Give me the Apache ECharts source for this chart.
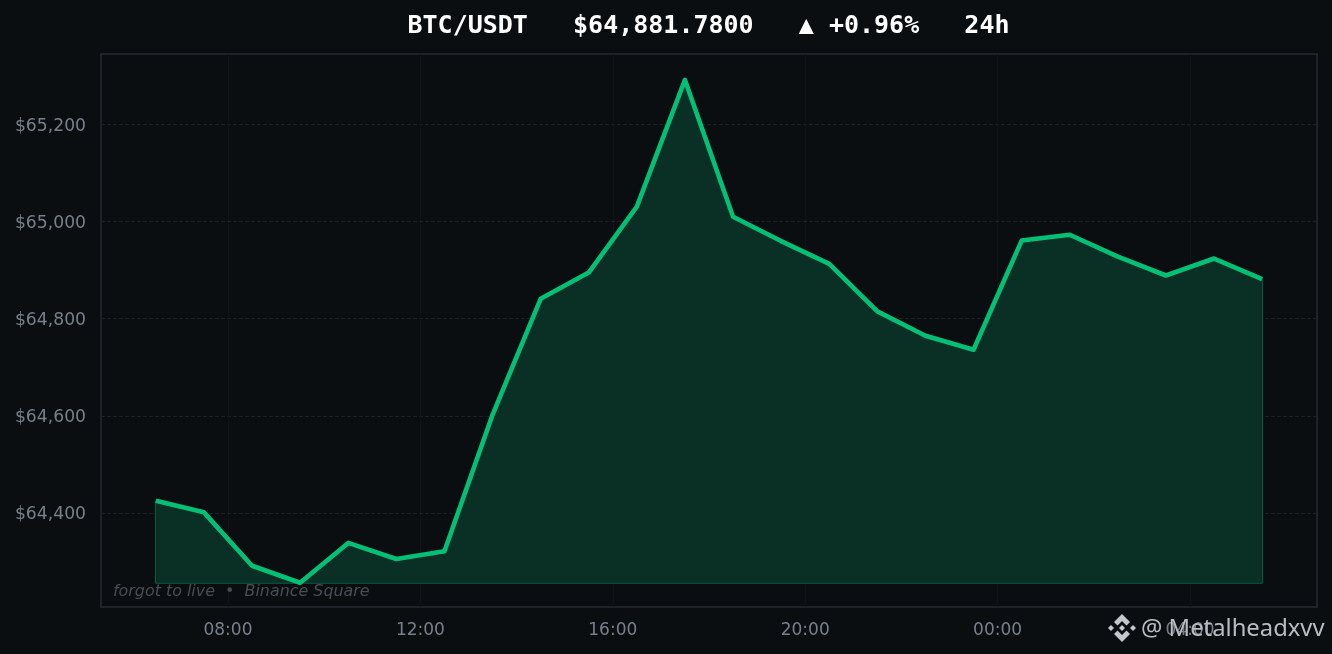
<!DOCTYPE html>
<html><head><meta charset="utf-8">
<style>html,body{margin:0;padding:0;background:#0b0e11;}#c{width:1332px;height:654px;}</style>
<script src="https://cdn.jsdelivr.net/npm/echarts@6/dist/echarts.min.js"></script></head>
<body><div id="c"></div>
<script>
const hours = [6.5,7.5,8.5,9.5,10.5,11.5,12.5,13.5,14.5,15.5,16.5,17.5,18.5,19.5,20.5,21.5,22.5,23.5,24.5,25.5,26.5,27.5,28.5,29.5];
const prices = [64425,64401,64291,64256,64338,64305,64321,64602,64841,64895,65031,65292,65010,64960,64913,64815,64765,64736,64961,64973,64928,64889,64924,64881.78];
const yTicks = [64400,64600,64800,65000,65200];
const xTicks = [8,12,16,20,24,28];
const titleText = 'BTC/USDT   $64,881.7800   ▲ +0.96%   24h';
const creditText = 'forgot to live  •  Binance Square';
const watermarkText = '@ Metalheadxvv';
const baseLine = 64256;

const chart = echarts.init(document.getElementById('c'), null, {renderer:'canvas'});
const pad = n => String(n % 24).padStart(2,'0') + ':00';
chart.setOption({
  animation:false,
  backgroundColor:'#0b0e11',
  title:{text:titleText,left:703.5,textAlign:'center',top:9,textStyle:{color:'#ffffff',fontFamily:'DejaVu Sans Mono',fontWeight:'bold',fontSize:25}},
  grid:{left:101,right:15,top:54,bottom:47,show:true,backgroundColor:'#0b0e11',borderColor:'#1e2329',borderWidth:2},
  xAxis:{type:'value',min:5.36,max:30.64,
    axisLine:{show:false},axisTick:{show:false,customValues:xTicks},
    axisLabel:{customValues:xTicks,formatter:v=>pad(v),color:'#76808c',fontFamily:'DejaVu Sans',fontSize:17,margin:15,hideOverlap:false,showMinLabel:true,showMaxLabel:true},
    splitLine:{show:true,lineStyle:{color:'#14181c',type:'dotted',width:1}}},
  yAxis:{type:'value',min:64206,max:65345.4,
    axisLine:{show:false},axisTick:{show:false,customValues:yTicks},
    axisLabel:{customValues:yTicks,formatter:v=>'$'+v.toLocaleString('en-US'),color:'#76808c',fontFamily:'DejaVu Sans',fontSize:17.2,margin:15,verticalAlign:'top',lineHeight:4},
    splitLine:{show:true,lineStyle:{color:'#1a1f24',type:'dashed',width:1}}},
  series:[{
    type:'line',data:hours.map((h,i)=>[h,prices[i]]),symbol:'none',smooth:false,
    lineStyle:{color:'#02c076',width:4.6,join:'round',cap:'butt'},
    areaStyle:{color:'#0a2f24',opacity:1,origin:baseLine},
    z:3
  },{
    type:'line',symbol:'none',silent:true,
    data:[[hours[0],prices[0]],[hours[0],baseLine],[hours[hours.length-1],baseLine],[hours[hours.length-1],prices[prices.length-1]]],
    lineStyle:{color:'#0e5a42',width:2},z:2
  }],
  graphic:[
    {type:'text',left:113,top:584,z:10,style:{text:creditText,fill:'#474d57',font:'italic 15.9px "DejaVu Sans"'}},
    {type:'text',left:1141,top:617,z:10,style:{text:watermarkText,fill:'#b9bdc2',font:'23.8px "Noto Sans"'}},
    {type:'group',left:1108,top:614,z:10,children:[
      {type:'polygon',shape:{points:[[14,0],[22,8],[18.5,11.5],[14,7],[9.5,11.5],[6,8]]},style:{fill:'#c4c8cd'}},
      {type:'polygon',shape:{points:[[14,28],[22,20],[18.5,16.5],[14,21],[9.5,16.5],[6,20]]},style:{fill:'#c4c8cd'}},
      {type:'polygon',shape:{points:[[14,11],[17,14],[14,17],[11,14]]},style:{fill:'#c4c8cd'}},
      {type:'polygon',shape:{points:[[3,11],[6,14],[3,17],[0,14]]},style:{fill:'#c4c8cd'}},
      {type:'polygon',shape:{points:[[25,11],[28,14],[25,17],[22,14]]},style:{fill:'#c4c8cd'}}
    ]}
  ]
});
</script></body></html>
